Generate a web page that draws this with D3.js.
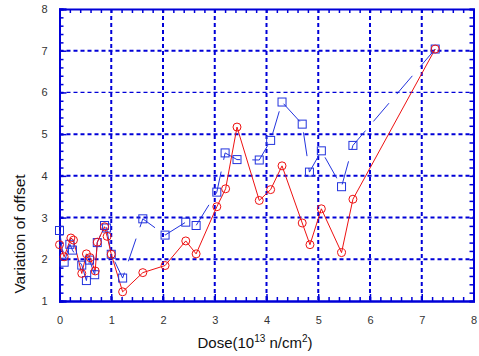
<!DOCTYPE html>
<html>
<head>
<meta charset="utf-8">
<script src="https://d3js.org/d3.v7.min.js"></script>
<style>
  body { margin: 0; background: #fff; }
  text { font-family: "Liberation Sans", Arial, sans-serif; }
</style>
</head>
<body>
<svg id="vis" width="479" height="356"></svg>
<script>
// data
var doseBlue = [0, 0.09, 0.2, 0.25, 0.43, 0.52, 0.58, 0.68, 0.73, 0.87, 0.91, 1.0, 1.22, 1.61, 2.04, 2.44, 2.64, 3.04, 3.2, 3.43, 3.86, 4.08, 4.3, 4.69, 4.83, 5.06, 5.45, 5.67, 7.26]
var offBlue  = [2.69, 1.93, 2.36, 2.22, 1.86, 1.49, 1.98, 1.63, 2.4, 2.81, 2.75, 2.12, 1.55, 2.97, 2.58, 2.89, 2.81, 3.61, 4.55, 4.39, 4.38, 4.85, 5.77, 5.24, 4.09, 4.6, 3.74, 4.73, 7.04]

var doseRed = [0, 0.09, 0.22, 0.27, 0.43, 0.52, 0.59, 0.69, 0.73, 0.87, 0.92, 1.0, 1.22, 1.61, 2.04, 2.44, 2.64, 3.04, 3.21, 3.43, 3.86, 4.08, 4.3, 4.69, 4.84, 5.06, 5.45, 5.67, 7.26]
var offRed  = [2.35, 2.06, 2.51, 2.46, 1.66, 2.13, 2.04, 1.72, 2.41, 2.78, 2.55, 2.12, 1.22, 1.68, 1.85, 2.44, 2.13, 3.26, 3.69, 5.17, 3.41, 3.67, 4.24, 2.87, 2.35, 3.21, 2.16, 3.44, 7.04]

var xTicks = [0, 1, 2, 3, 4, 5, 6, 7, 8]
var yTicks = [1, 2, 3, 4, 5, 6, 7, 8]

var svg = d3.select("#vis")
var blue = "#0000d8"

var x = d3.scaleLinear().domain([0, 8]).range([59.5, 473.5])
var y = d3.scaleLinear().domain([1, 8]).range([301, 9])

// grid
var grid = svg.append("g")
grid.selectAll(".gx").data(xTicks.slice(1, -1)).enter().append("line")
  .attr("x1", d => x(d)).attr("x2", d => x(d))
  .attr("y1", y(8)).attr("y2", y(1))
  .attr("stroke", blue).attr("stroke-width", 2).attr("stroke-dasharray", "4,3")
grid.selectAll(".gy").data(yTicks.slice(1, -1)).enter().append("line")
  .attr("x1", x(0)).attr("x2", x(8))
  .attr("y1", d => y(d)).attr("y2", d => y(d))
  .attr("stroke", blue)
  .attr("stroke-width", d => d == 6 ? 1.2 : 2)
  .attr("stroke-dasharray", "4,3")

// axes, ticks inward
var minorX = d3.range(0, 8.01, 0.2)
var minorY = d3.range(1, 8.01, 0.2)

svg.append("g").attr("transform", "translate(0," + y(1) + ")")
  .call(d3.axisBottom(x).tickValues(minorX).tickSize(-4).tickFormat(""))
svg.append("g").attr("transform", "translate(0," + y(8) + ")")
  .call(d3.axisTop(x).tickValues(minorX).tickSize(-4).tickFormat(""))
svg.append("g").attr("transform", "translate(" + x(0) + ",0)")
  .call(d3.axisLeft(y).tickValues(minorY).tickSize(-4).tickFormat(""))
svg.append("g").attr("transform", "translate(" + x(8) + ",0)")
  .call(d3.axisRight(y).tickValues(minorY).tickSize(-4).tickFormat(""))

svg.append("g").attr("transform", "translate(0," + y(1) + ")")
  .call(d3.axisBottom(x).tickValues(xTicks).tickFormat(d3.format("d")).tickSize(-7).tickPadding(15))
svg.append("g").attr("transform", "translate(" + x(0) + ",0)")
  .call(d3.axisLeft(y).tickValues(yTicks).tickFormat(d3.format("d")).tickSize(-7).tickPadding(12))

svg.selectAll(".domain").attr("stroke", blue).attr("stroke-width", 2)
svg.selectAll(".tick line").attr("stroke", blue).attr("stroke-width", 1.5)
svg.selectAll(".tick text").attr("fill", "#333").style("font-size", "11px")
  .style("font-family", "'Liberation Sans', Arial, sans-serif")

// blue series: long-dashed line with squares
var blueData = doseBlue.map((d, i) => [d, offBlue[i]])
var redData = doseRed.map((d, i) => [d, offRed[i]])
var line = d3.line().x(d => x(d[0])).y(d => y(d[1]))

svg.append("path").datum(blueData)
  .attr("d", line).attr("fill", "none")
  .attr("stroke", "#2233dd").attr("stroke-width", 1)
  .attr("stroke-dasharray", "24,12")

svg.append("path").datum(redData)
  .attr("d", line).attr("fill", "none")
  .attr("stroke", "#ee1111").attr("stroke-width", 1)

svg.selectAll(".sq").data(blueData).enter().append("rect")
  .attr("x", d => x(d[0]) - 4).attr("y", d => y(d[1]) - 4)
  .attr("width", 8).attr("height", 8)
  .attr("fill", "none").attr("stroke", "#2233dd").attr("stroke-width", 1)

svg.selectAll(".ci").data(redData).enter().append("circle")
  .attr("cx", d => x(d[0])).attr("cy", d => y(d[1])).attr("r", 4)
  .attr("fill", "none").attr("stroke", "#ee1111").attr("stroke-width", 1)

// labels
svg.append("text")
  .attr("transform", "translate(25,234) rotate(-90)")
  .attr("text-anchor", "middle")
  .style("font-size", "15.5px").attr("fill", "#111")
  .text("Variation of offset")

var xl = svg.append("text")
  .attr("x", 255).attr("y", 348)
  .attr("text-anchor", "middle")
  .style("font-size", "15px").attr("fill", "#111")
xl.append("tspan").text("Dose(10")
xl.append("tspan").attr("dy", -6).style("font-size", "10px").text("13")
xl.append("tspan").attr("dy", 6).text(" n/cm")
xl.append("tspan").attr("dy", -6).style("font-size", "10px").text("2")
xl.append("tspan").attr("dy", 6).text(")")
</script>
</body>
</html>
